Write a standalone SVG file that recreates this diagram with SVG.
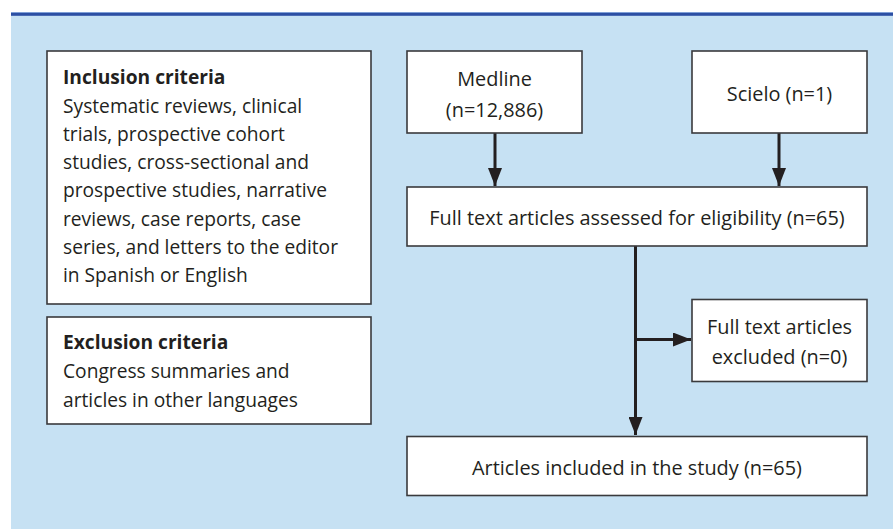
<svg xmlns="http://www.w3.org/2000/svg" width="893" height="529" viewBox="0 0 893 529">
<style>
.bx{fill:#fff;stroke:#3a3a3c;stroke-width:1.6}
.t{font-family:"Open Sans","Noto Sans",sans-serif;font-size:19.2px;fill:#231f20}
.r{font-size:19.9px}
.b{font-weight:bold}
.c{text-anchor:middle}
.ln{stroke:#231f20;stroke-width:3;fill:none}
</style>
<defs>
<marker id="ah" markerUnits="userSpaceOnUse" markerWidth="18" markerHeight="14" refX="18" refY="7" orient="auto">
<path d="M0,0 L18,7 L0,14 Z" fill="#231f20"/>
</marker>
</defs>
<rect x="11" y="12" width="882" height="517" fill="#c6e1f3"/>
<rect x="11" y="12" width="882" height="1.2" fill="#7f9fd6"/>
<rect x="11" y="13" width="882" height="2.8" fill="#2c4fa3"/>
<g id="connectors">
<line class="ln" x1="495" y1="133" x2="495" y2="186" marker-end="url(#ah)"/>
<line class="ln" x1="779" y1="133" x2="779" y2="186" marker-end="url(#ah)"/>
<line class="ln" x1="635.5" y1="246" x2="635.5" y2="435" marker-end="url(#ah)"/>
<line class="ln" x1="635.5" y1="339.5" x2="691" y2="339.5" marker-end="url(#ah)"/>
</g>
<g id="inclusion">
<rect class="bx" x="47" y="51" width="324" height="253"/>
<text class="t b" x="63" y="84">Inclusion criteria</text>
<text class="t" x="63" y="113">Systematic reviews, clinical</text>
<text class="t" x="63" y="141">trials, prospective cohort</text>
<text class="t" x="63" y="169">studies, cross-sectional and</text>
<text class="t" x="63" y="197">prospective studies, narrative</text>
<text class="t" x="63" y="225.5">reviews, case reports, case</text>
<text class="t" x="63" y="254">series, and letters to the editor</text>
<text class="t" x="63" y="282">in Spanish or English</text>
</g>
<g id="exclusion">
<rect class="bx" x="47" y="317" width="324" height="107"/>
<text class="t b" x="63" y="348.5">Exclusion criteria</text>
<text class="t" x="63" y="378">Congress summaries and</text>
<text class="t" x="63" y="407">articles in other languages</text>
</g>
<g id="medline">
<rect class="bx" x="407" y="51" width="175" height="82"/>
<text class="t r c" x="494.5" y="86">Medline</text>
<text class="t r c" x="494.5" y="116.5">(n=12,886)</text>
</g>
<g id="scielo">
<rect class="bx" x="692" y="51" width="175" height="82"/>
<text class="t r c" x="779.5" y="101">Scielo (n=1)</text>
</g>
<g id="fulltext">
<rect class="bx" x="407" y="187" width="460" height="59"/>
<text class="t r c" x="637" y="225">Full text articles assessed for eligibility (n=65)</text>
</g>
<g id="excluded">
<rect class="bx" x="692" y="299.5" width="175" height="82"/>
<text class="t r c" x="779.5" y="333.5">Full text articles</text>
<text class="t r c" x="779.5" y="363.5">excluded (n=0)</text>
</g>
<g id="included">
<rect class="bx" x="407" y="436.5" width="460" height="59"/>
<text class="t r c" x="637" y="474.5">Articles included in the study (n=65)</text>
</g>
</svg>
